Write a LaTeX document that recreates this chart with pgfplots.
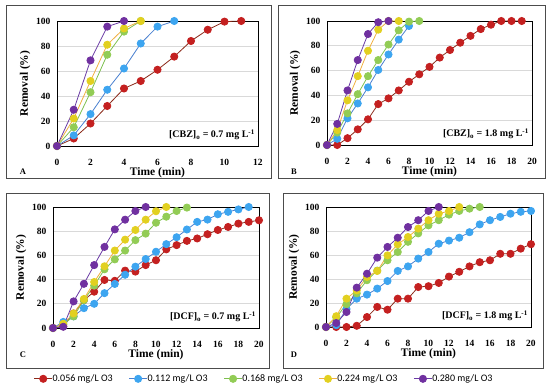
\documentclass[border=0pt]{standalone}
\usepackage{pgfplots}
\pgfplotsset{compat=1.18}
\usepackage{fontspec}
\setmainfont{Liberation Serif}
\newfontfamily\legfont{Carlito}
\definecolor{rL}{HTML}{8B2A1A}\definecolor{rM}{HTML}{C42020}
\definecolor{bL}{HTML}{4A80D0}\definecolor{bM}{HTML}{3DA5F0}
\definecolor{gL}{HTML}{7EC050}\definecolor{gM}{HTML}{92CC55}
\definecolor{yL}{HTML}{F0B040}\definecolor{yM}{HTML}{E2D020}
\definecolor{pL}{HTML}{6A3BA5}\definecolor{pM}{HTML}{7030A0}
\pgfplotsset{
  s1/.style={color=rL, line width=0.8pt, mark=*, mark size=3.6pt, mark options={fill=rM, draw=rM}},
  s2/.style={color=bL, line width=0.8pt, mark=*, mark size=3.6pt, mark options={fill=bM, draw=bM}},
  s3/.style={color=gL, line width=0.8pt, mark=*, mark size=3.6pt, mark options={fill=gM, draw=gM}},
  s4/.style={color=yL, line width=0.8pt, mark=*, mark size=3.6pt, mark options={fill=yM, draw=yM}},
  s5/.style={color=pL, line width=0.8pt, mark=*, mark size=3.6pt, mark options={fill=pM, draw=pM}},
  panel/.style={scale only axis, ymin=0, ymax=100, ytick={0,20,...,100},
    ymajorgrids, grid style={gray!30, line width=0.6pt}, axis line style={black, line width=0.9pt},
    major tick length=0pt, clip=false,
    /pgf/number format/assume math mode=true,
    ticklabel style={font=\fontsize{9.5}{11}\selectfont\bfseries},
    xlabel={Time (min)}, ylabel={Removal (\%)},
    ylabel style={font=\fontsize{11.5}{13}\selectfont\bfseries, yshift=-1pt},
    every axis x label/.style={at={(axis description cs:0.5,0)}, anchor=center, yshift=-26.5pt,
      font=\fontsize{11.5}{13}\selectfont\bfseries},
    xticklabel style={anchor=center, yshift=-16.5pt, inner sep=0pt}, yticklabel style={xshift=-3pt}},
}
\newcommand{\conc}[2]{[#1]\textsubscript{o} = #2 mg L\textsuperscript{-1}}
\begin{document}
\begin{tikzpicture}
\path (0pt,0pt) rectangle (550pt,390pt);
\draw[gray!60!black, line width=0.8pt] (6pt,212pt) rectangle (271pt,385pt);
\draw[gray!60!black, line width=0.8pt] (278pt,212pt) rectangle (545pt,385pt);
\draw[gray!60!black, line width=0.8pt] (6pt,22pt) rectangle (269pt,197pt);
\draw[gray!60!black, line width=0.8pt] (283pt,22pt) rectangle (543pt,197pt);
\node[font=\fontsize{8.5}{10}\selectfont\bfseries] at (23pt,218pt) {A};
\node[font=\fontsize{8.5}{10}\selectfont\bfseries] at (294pt,218pt) {B};
\node[font=\fontsize{8.5}{10}\selectfont\bfseries] at (23pt,35pt) {C};
\node[font=\fontsize{8.5}{10}\selectfont\bfseries] at (294pt,35pt) {D};

% Panel A
\begin{axis}[panel, anchor=south west, at={(57pt,244pt)}, width=201pt, height=125pt, xmin=0, xmax=12, xtick={0,2,...,12}]
\addplot[s1] coordinates {(0,0)(1,6)(2,18)(3,32)(4,46)(5,52)(6,61)(7,71.5)(8,84)(9,93)(10,99.5)(11,100)};
\addplot[s2] coordinates {(0,0)(1,8.5)(2,25.5)(3,45)(4,62)(5,82)(6,95.5)(7,100)};
\addplot[s3] coordinates {(0,0)(1,15)(2,43)(3,73)(4,91.5)(5,100)};
\addplot[s4] coordinates {(0,0)(1,22)(2,52)(3,81)(4,94)(5,100)};
\addplot[s5] coordinates {(0,0)(1,29)(2,68.5)(3,95.5)(4,100)};
\node[anchor=south east, fill=white, inner sep=2pt, font=\fontsize{10}{12}\selectfont\bfseries] at (rel axis cs:0.995,0.03) {\conc{CBZ}{0.7}};
\end{axis}

% Panel B
\begin{axis}[panel, anchor=south west, at={(327pt,245pt)}, width=205pt, height=124pt, xmin=0, xmax=20, xtick={0,2,...,20}]
\addplot[s1] coordinates {(0,0)(1,0)(2,5.5)(3,12.6)(4,20.7)(5,33)(6,37.6)(7,44)(8,51)(9,57)(10,63)(11,70.5)(12,76.6)(13,82.5)(14,88)(15,93.5)(16,97)(17,100)(18,100)(19,100)};
\addplot[s2] coordinates {(0,0)(1,5)(2,21.5)(3,33.5)(4,46.5)(5,60.5)(6,73)(7,85)(8,96)};
\addplot[s3] coordinates {(0,0)(1,10)(2,25.5)(3,41)(4,55.5)(5,68.5)(6,81)(7,92.5)(8,99.5)(9,100)};
\addplot[s4] coordinates {(0,0)(1,12)(2,36)(3,55.5)(4,76)(5,93)(6,100)(7,100)};
\addplot[s5] coordinates {(0,0)(1,17)(2,44)(3,68.5)(4,89.5)(5,99)(6,100)};
\node[anchor=south east, fill=white, inner sep=2pt, font=\fontsize{10}{12}\selectfont\bfseries] at (rel axis cs:0.995,0.03) {\conc{CBZ}{1.8}};
\end{axis}

% Panel C
\begin{axis}[panel, anchor=south west, at={(53pt,62pt)}, width=206pt, height=121pt, xmin=0, xmax=20, xtick={0,2,...,20},
  legend columns=5,
  legend style={at={(axis description cs:1.025,-0.42)}, anchor=center, draw=none, fill=none,
    font=\fontsize{10}{12}\selectfont\legfont, /tikz/every even column/.append style={column sep=14pt},
    /tikz/every odd column/.append style={column sep=-2pt}},
  legend image code/.code={\draw[#1,mark repeat=2,mark phase=2] plot coordinates {(0pt,0pt)(9pt,0pt)(18pt,0pt)};}]
\addplot[s1] coordinates {(0,0)(1,1.4)(2,12)(3,23)(4,30)(5,39.7)(6,39)(7,47.4)(8,46.6)(9,52)(10,56)(11,65)(12,68.5)(13,72)(14,74)(15,77.5)(16,81)(17,83.5)(18,86.3)(19,87.7)(20,89)};
\addplot[s2] coordinates {(0,0)(1,5)(2,9.6)(3,16.4)(4,20)(5,28.8)(6,36.4)(7,44)(8,50.7)(9,57)(10,63)(11,69.3)(12,75)(13,81.4)(14,87.7)(15,89.6)(16,94)(17,96)(18,98)(19,100)};
\addplot[s3] coordinates {(0,0)(1,3)(2,9.6)(3,23)(4,35)(5,48.5)(6,56.7)(7,64)(8,72.6)(9,78)(10,87)(11,92)(12,96.7)(13,99.5)};
\addplot[s4] coordinates {(0,0)(1,3.5)(2,12)(3,24)(4,38)(5,51)(6,64)(7,73)(8,81)(9,89.5)(10,96.5)(11,100)};
\addplot[s5] coordinates {(0,0)(1,1)(2,22)(3,36.5)(4,52)(5,67)(6,81.5)(7,89.5)(8,96.7)(9,100)};
\legend{0.056 mg/L O3, 0.112 mg/L O3, 0.168 mg/L O3, 0.224 mg/L O3, 0.280 mg/L O3}
\node[anchor=south east, fill=white, inner sep=2pt, font=\fontsize{10}{12}\selectfont\bfseries] at (rel axis cs:0.995,0.03) {\conc{DCF}{0.7}};
\end{axis}

% Panel D
\begin{axis}[panel, anchor=south west, at={(326pt,63pt)}, width=205pt, height=120pt, xmin=0, xmax=20, xtick={0,2,...,20}]
\addplot[s1] coordinates {(0,0)(1,0)(2,0)(3,1)(4,8.3)(5,16.7)(6,14.4)(7,23.6)(8,23.6)(9,33.3)(10,34)(11,36.7)(12,42)(13,46)(14,50.5)(15,54)(16,55.6)(17,61)(18,61)(19,65.3)(20,69)};
\addplot[s2] coordinates {(0,0)(1,1.5)(2,15)(3,23.6)(4,27)(5,32)(6,38.3)(7,46.7)(8,50.5)(9,57)(10,62.5)(11,69.4)(12,72)(13,74.4)(14,79)(15,85.5)(16,89)(17,91.7)(18,94.4)(19,96)(20,96.7)};
\addplot[s3] coordinates {(0,0)(1,8)(2,19)(3,28)(4,39)(5,47)(6,55.6)(7,62.5)(8,71)(9,78)(10,84.7)(11,89)(12,93.6)(13,96.7)(14,98.6)(15,100)};
\addplot[s4] coordinates {(0,0)(1,9)(2,23.6)(3,30.5)(4,41.7)(5,46.7)(6,59.7)(7,68.9)(8,75)(9,82)(10,89)(11,94.4)(12,96.7)(13,100)};
\addplot[s5] coordinates {(0,0)(1,3.3)(2,12.5)(3,32.8)(4,44.4)(5,57.8)(6,66.7)(7,74.4)(8,83.3)(9,89)(10,96.7)(11,100)};
\node[anchor=south east, fill=white, inner sep=2pt, font=\fontsize{10}{12}\selectfont\bfseries] at (rel axis cs:0.995,0.03) {\conc{DCF}{1.8}};
\end{axis}
\end{tikzpicture}
\end{document}
